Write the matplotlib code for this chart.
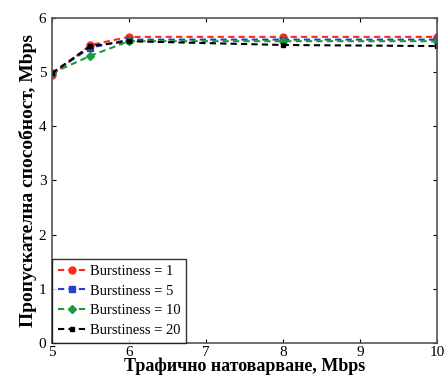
import matplotlib
matplotlib.use("Agg")
import matplotlib.pyplot as plt

plt.rcParams['font.family'] = ['Liberation Serif', 'DejaVu Serif']

# traffic load, Mbps
load = [5, 5.5, 6, 8, 10]
b1 = [4.94, 5.50, 5.65, 5.65, 5.65]
b5 = [4.98, 5.45, 5.60, 5.60, 5.60]
b10 = [4.98, 5.30, 5.57, 5.57, 5.57]
b20 = [4.98, 5.48, 5.57, 5.50, 5.48]
labels = ["Burstiness = 1", "Burstiness = 5", "Burstiness = 10", "Burstiness = 20"]

fig = plt.figure(figsize=(4.44, 3.81), dpi=100)
ax = fig.add_axes([0.117, 0.10, 0.867, 0.853])

ax.plot(load, b1, '--o', color='#ff2a1a', ms=5, lw=1.5, dashes=(3, 2), label=labels[0])
ax.plot(load, b5, '--s', color='#2a3fd0', ms=5, lw=1.5, dashes=(3, 2), label=labels[1])
ax.plot(load, b10, '--D', color='#1a9a3a', ms=4, lw=1.5, dashes=(3, 2), label=labels[2])
ax.plot(load, b20, '--s', color='black', ms=3, lw=1.5, dashes=(3, 2), label=labels[3])

ax.set_xlim(5, 10)
ax.set_ylim(0, 6)
ax.set_xticks([5, 6, 7, 8, 9, 10])
ax.set_yticks([0, 1, 2, 3, 4, 5, 6])
ax.tick_params(direction='in', labelsize=11, length=3, top=True, right=True)
ax.tick_params(axis='x', pad=2)
ax.tick_params(axis='y', pad=4)
for s in ax.spines.values():
    s.set_linewidth(1.2)
    s.set_color('#555555')

ax.set_xlabel("Трафично натоварване, Mbps", fontsize=13, fontweight='bold', labelpad=-1)
ax.set_ylabel("Пропускателна способност, Mbps", fontsize=14, fontweight='bold', labelpad=1)

leg = ax.legend(loc='lower left', fontsize=10.5, frameon=True, fancybox=False,
                edgecolor='black', handlelength=2.0, borderaxespad=0.0,
                labelspacing=0.45, handletextpad=0.2, borderpad=0.4)
leg.get_frame().set_linewidth(1.0)

fig.savefig("out.png", dpi=100)
